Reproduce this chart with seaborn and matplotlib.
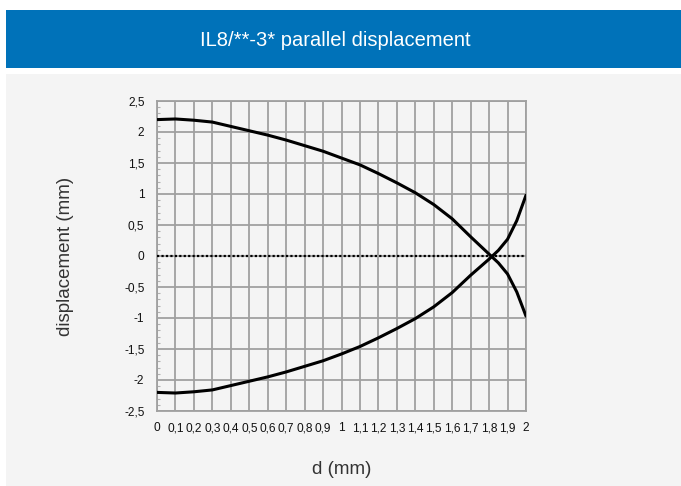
import matplotlib
matplotlib.use("Agg")
import matplotlib.pyplot as plt
import matplotlib.patches as mpatches
from matplotlib.ticker import MultipleLocator, FixedLocator
import seaborn as sns
import pandas as pd
import numpy as np

# ---- data ----
d_mm = [0.0, 0.1, 0.2, 0.3, 0.4, 0.5, 0.6, 0.7, 0.8, 0.9, 1.0,
        1.1, 1.2, 1.3, 1.4, 1.5, 1.6, 1.7, 1.8, 1.85, 1.9, 1.95, 2.0]
upper = [2.20, 2.21, 2.19, 2.16, 2.09, 2.02, 1.95, 1.87, 1.78, 1.69, 1.58,
         1.47, 1.33, 1.18, 1.02, 0.83, 0.60, 0.31, 0.03, -0.11, -0.29, -0.58, -0.97]
lower = [-2.20, -2.21, -2.19, -2.16, -2.09, -2.02, -1.95, -1.87, -1.78, -1.69, -1.58,
         -1.46, -1.32, -1.17, -1.01, -0.82, -0.59, -0.31, -0.05, 0.09, 0.27, 0.57, 0.98]
x_ticks = [0.0, 0.1, 0.2, 0.3, 0.4, 0.5, 0.6, 0.7, 0.8, 0.9, 1.0,
           1.1, 1.2, 1.3, 1.4, 1.5, 1.6, 1.7, 1.8, 1.9, 2.0]
x_labels = ["0", "0,1", "0,2", "0,3", "0,4", "0,5", "0,6", "0,7", "0,8", "0,9", "1",
            "1,1", "1,2", "1,3", "1,4", "1,5", "1,6", "1,7", "1,8", "1,9", "2"]
y_ticks = [-2.5, -2.0, -1.5, -1.0, -0.5, 0.0, 0.5, 1.0, 1.5, 2.0, 2.5]
y_labels = ["-2,5", "-2", "-1,5", "-1", "-0,5", "0", "0,5", "1", "1,5", "2", "2,5"]
title = "IL8/**-3* parallel displacement"
xlabel = "d (mm)"
ylabel = "displacement (mm)"

df = pd.DataFrame({"d": d_mm + d_mm,
                   "disp": upper + lower,
                   "curve": ["upper"] * len(d_mm) + ["lower"] * len(d_mm)})

sns.set_theme(style="white")
plt.rcParams["font.family"] = ["Liberation Sans", "DejaVu Sans"]

BLUE = "#0072B9"
BG = "#F4F4F4"
GRID = "#A0A0A0"

fig = plt.figure(figsize=(6.81, 4.86), dpi=100)
fig.patch.set_facecolor("white")
# title banner and grey panel
fig.patches.append(mpatches.Rectangle((6 / 681, 1 - 68 / 486), 1, 58 / 486,
                                      transform=fig.transFigure, facecolor=BLUE,
                                      edgecolor="none", zorder=-5))
fig.patches.append(mpatches.Rectangle((6 / 681, 0), 1, 1 - 74 / 486,
                                      transform=fig.transFigure, facecolor=BG,
                                      edgecolor="none", zorder=-5))
fig.text(335.5 / 681, 1 - 41 / 486, title, color="white", fontsize=14.5,
         ha="center", va="center")

ax = fig.add_axes([157 / 681, 1 - 411 / 486, 369 / 681, 310 / 486])
ax.set_facecolor(BG)

sns.lineplot(data=df, x="d", y="disp", units="curve", estimator=None,
             color="black", linewidth=2.2, ax=ax, zorder=5, sort=False)

ax.set_xlim(0, 2)
ax.set_ylim(-2.5, 2.5)
ax.xaxis.set_major_locator(FixedLocator(x_ticks))
ax.set_xticklabels(x_labels)
ax.yaxis.set_major_locator(FixedLocator(y_ticks))
ax.set_yticklabels(y_labels)
ax.yaxis.set_minor_locator(MultipleLocator(0.1))

ax.grid(True, which="major", color=GRID, linewidth=1.3, zorder=1)
ax.set_axisbelow(True)
for s in ax.spines.values():
    s.set_color(GRID)
    s.set_linewidth(1.3)

ax.axhline(0, color="black", linewidth=1.6, linestyle=(0, (1, 1)), zorder=4)

ax.tick_params(axis="x", which="major", length=0, pad=8, labelsize=8.6, colors="#111111")
ax.tick_params(axis="y", which="major", length=0, pad=9, labelsize=8.6, colors="#111111")
ax.tick_params(axis="y", which="minor", left=True, length=2, width=0.8, color="#B0B0B0", direction="in")

ax.set_xlabel(xlabel, fontsize=13.5, color="#333333", labelpad=19)
ax.set_ylabel(ylabel, fontsize=13.5, color="#333333", labelpad=36)

fig.savefig("out.png", dpi=100, facecolor=fig.get_facecolor())
